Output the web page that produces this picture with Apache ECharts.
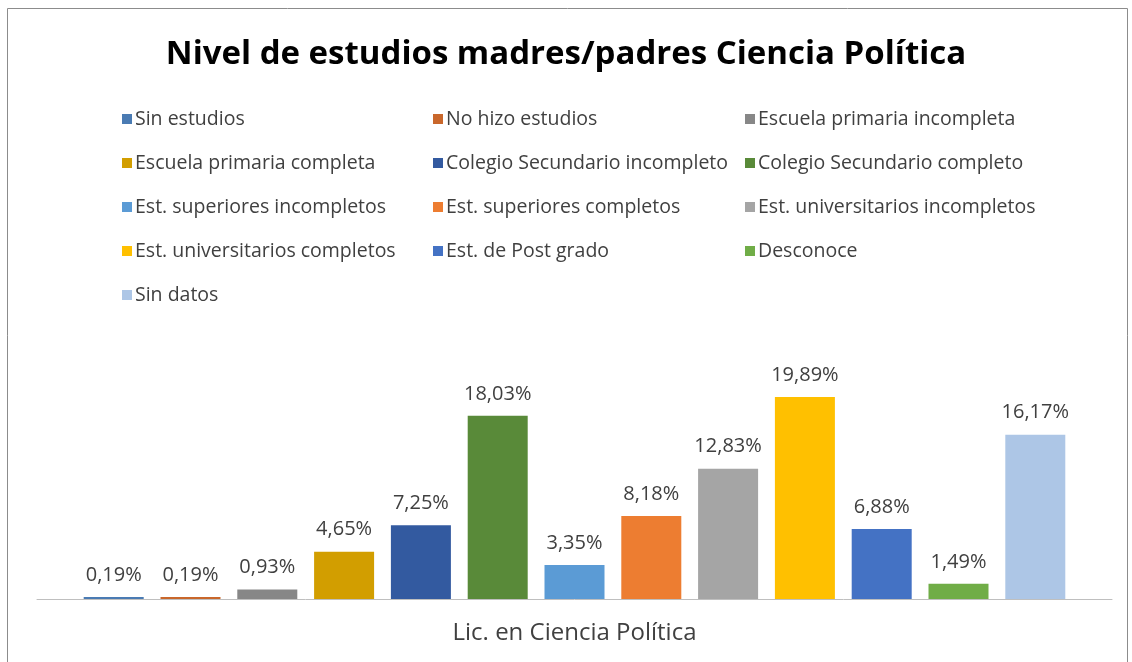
<!DOCTYPE html>
<html>
<head>
<meta charset="utf-8">
<script src="https://cdn.jsdelivr.net/npm/echarts@6/dist/echarts.min.js"></script>
<style>
  html, body { margin: 0; padding: 0; background: #fff; }
  #main { width: 1132px; height: 662px; }
</style>
</head>
<body>
<div id="main"></div>
<script>
// datos
const titleText = "Nivel de estudios madres/padres Ciencia Política";
const categories = ["Lic. en Ciencia Política"];
const seriesNames = [
  "Sin estudios",
  "No hizo estudios",
  "Escuela primaria incompleta",
  "Escuela primaria completa",
  "Colegio Secundario incompleto",
  "Colegio Secundario completo",
  "Est. superiores incompletos",
  "Est. superiores completos",
  "Est. universitarios incompletos",
  "Est. universitarios completos",
  "Est. de Post grado",
  "Desconoce",
  "Sin datos",
];
const seriesValues = [0.19, 0.19, 0.93, 4.65, 7.25, 18.03, 3.35, 8.18, 12.83, 19.89, 6.88, 1.49, 16.17];
const seriesColors = [
  "#4A7BB3", "#C9672B", "#878787", "#D29E00", "#335AA0", "#598A39", "#5B9BD5",
  "#ED7D31", "#A5A5A5", "#FFC000", "#4472C4", "#70AD47", "#ADC6E6",
];

const font = "Open Sans";
const textColor = "#404040";

var chartDom = document.getElementById("main");
var myChart = echarts.init(chartDom, null, { renderer: "canvas" });

// leyenda en 3 columnas (una leyenda por columna)
const legendCols = [117, 428, 740];
const legends = legendCols.map((x, col) => ({
  orient: "vertical",
  left: x,
  top: 104,
  itemWidth: 10,
  itemHeight: 10,
  itemGap: 24,
  icon: "rect",
  selectedMode: false,
  data: seriesNames.filter((n, i) => i % 3 === col),
  textStyle: { fontFamily: font, fontSize: 19.5, lineHeight: 20, color: textColor, padding: [0, 0, 0, -2] },
}));

var option = {
  animation: false,
  title: {
    text: titleText,
    left: "center",
    top: 33,
    textStyle: { fontFamily: font, fontWeight: "bold", fontSize: 33, color: "#000" },
  },
  legend: legends,
  grid: { left: 37, right: 20, top: 345, bottom: 63 },
  xAxis: {
    type: "category",
    data: categories,
    axisLine: { lineStyle: { color: "#BFBFBF", width: 1 } },
    axisTick: { show: false },
    axisLabel: { fontFamily: font, fontSize: 24, color: textColor, margin: 22 },
  },
  yAxis: {
    type: "value",
    min: 0,
    max: 25,
    show: false,
    splitLine: { show: false },
  },
  series: seriesNames.map((name, i) => ({
    name,
    type: "bar",
    data: [seriesValues[i]],
    barWidth: 60,
    barGap: "28%",
    itemStyle: { color: seriesColors[i] },
    label: {
      show: true,
      position: "top",
      distance: 12,
      fontFamily: font,
      fontSize: 20,
      color: textColor,
      formatter: (p) => p.value.toFixed(2).replace(".", ",") + "%",
    },
  })),
  graphic: [
    {
      type: "rect",
      shape: { x: 7.5, y: 8.5, width: 1120, height: 700 },
      style: { fill: null, stroke: "#8C8C8C", lineWidth: 1 },
      silent: true,
    },
  ],
};

option && myChart.setOption(option);
</script>
</body>
</html>
